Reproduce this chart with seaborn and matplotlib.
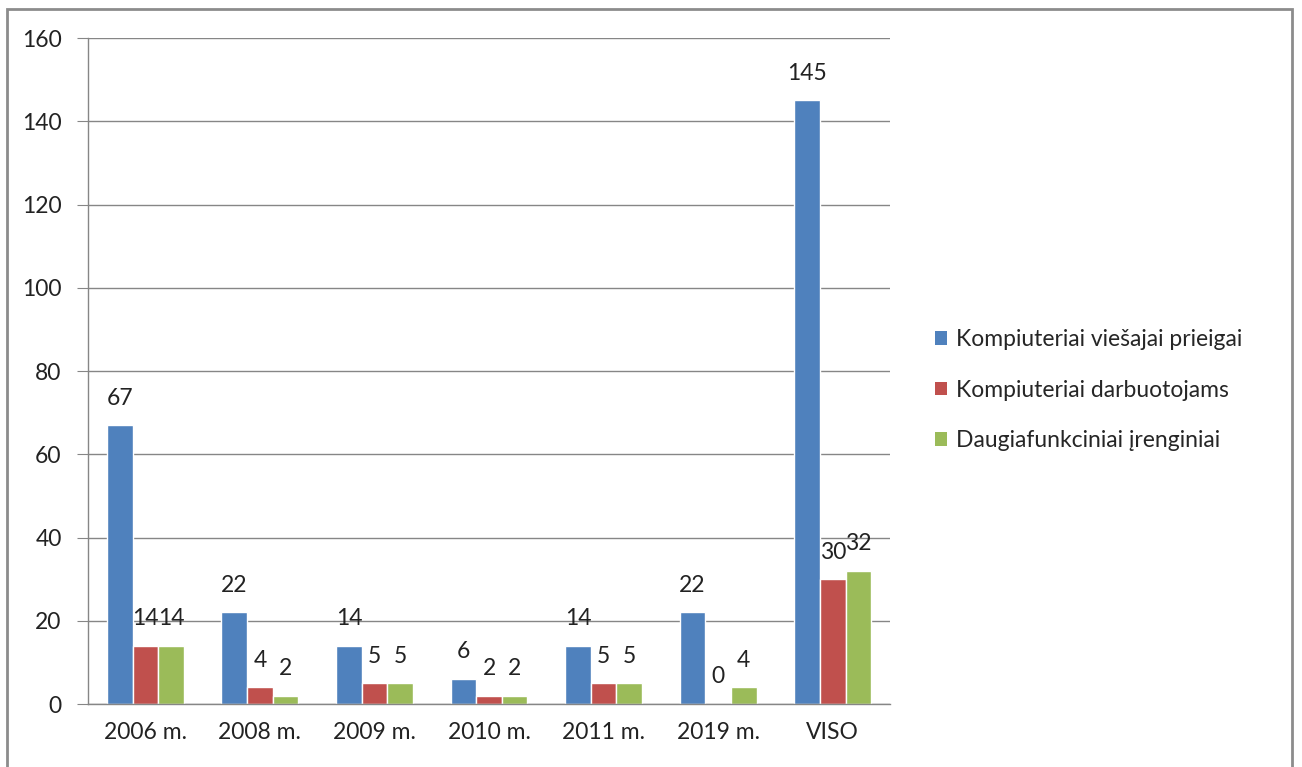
import pandas as pd
import numpy as np
import seaborn as sns
import matplotlib.pyplot as plt
from matplotlib.patches import Patch, Rectangle

# data
years = ['2006 m.', '2008 m.', '2009 m.', '2010 m.', '2011 m.', '2019 m.', 'VISO']
series = ['Kompiuteriai viešajai prieigai', 'Kompiuteriai darbuotojams', 'Daugiafunkciniai įrenginiai']
viesajai = [67, 22, 14, 6, 14, 22, 145]
darbuotojams = [14, 4, 5, 2, 5, 0, 30]
irenginiai = [14, 2, 5, 2, 5, 4, 32]
colors = ['#4F81BD', '#C0504D', '#9BBB59']

df = pd.DataFrame({'year': years * 3,
                   'series': [series[0]] * 7 + [series[1]] * 7 + [series[2]] * 7,
                   'value': viesajai + darbuotojams + irenginiai})

sns.set_style('white')
plt.rcParams['font.family'] = ['Lato', 'DejaVu Sans']
fs = 16.5

fig = plt.figure(figsize=(13.02, 7.67), dpi=100)
ax = fig.add_axes([0.0676, 0.0821, 0.616, 0.8683])

sns.barplot(data=df, x='year', y='value', hue='series', palette=colors,
            width=0.67, saturation=1, ax=ax, legend=False)

# value labels above bars
for cont in ax.containers:
    for p in cont:
        h = p.get_height()
        ax.annotate('%d' % round(h), (p.get_x() + p.get_width() / 2, h),
                    xytext=(0, 19.5), textcoords='offset points',
                    ha='center', va='center', fontsize=fs, color='#222222')

ax.set_ylim(0, 160)
ax.set_xlim(-0.5, 6.5)
ax.set_yticks(np.arange(0, 161, 20))
ax.yaxis.grid(True, color='#868686', lw=1)
ax.set_axisbelow(True)
ax.set_xlabel('')
ax.set_ylabel('')

# category ticks between groups
ax.set_xticks(np.arange(-0.5, 7, 1), minor=True)
ax.tick_params(axis='x', which='major', length=0, pad=13, labelsize=fs, labelcolor='#222222')
ax.tick_params(axis='x', which='minor', length=8, color='#868686', direction='out')
ax.tick_params(axis='y', length=8, color='#868686', direction='out', pad=11,
               labelsize=fs, labelcolor='#222222', left=True)

for s in ['top', 'right']:
    ax.spines[s].set_visible(False)
for s in ['left', 'bottom']:
    ax.spines[s].set_color('#868686')
    ax.spines[s].set_linewidth(1)

handles = [Patch(facecolor=c, edgecolor='none') for c in colors]
fig.legend(handles, series, loc='center left', bbox_to_anchor=(0.702, 0.4915),
           frameon=False, fontsize=fs, handlelength=0.55, handleheight=0.55,
           handletextpad=0.4, labelspacing=1.3)

# outer chart border
fig.add_artist(Rectangle((7 / 1302, -0.05), 1285 / 1302, 1.05 - 9 / 767,
                         transform=fig.transFigure, fill=False,
                         edgecolor='#8c8c8c', lw=2))

fig.savefig('out.png', dpi=100)
